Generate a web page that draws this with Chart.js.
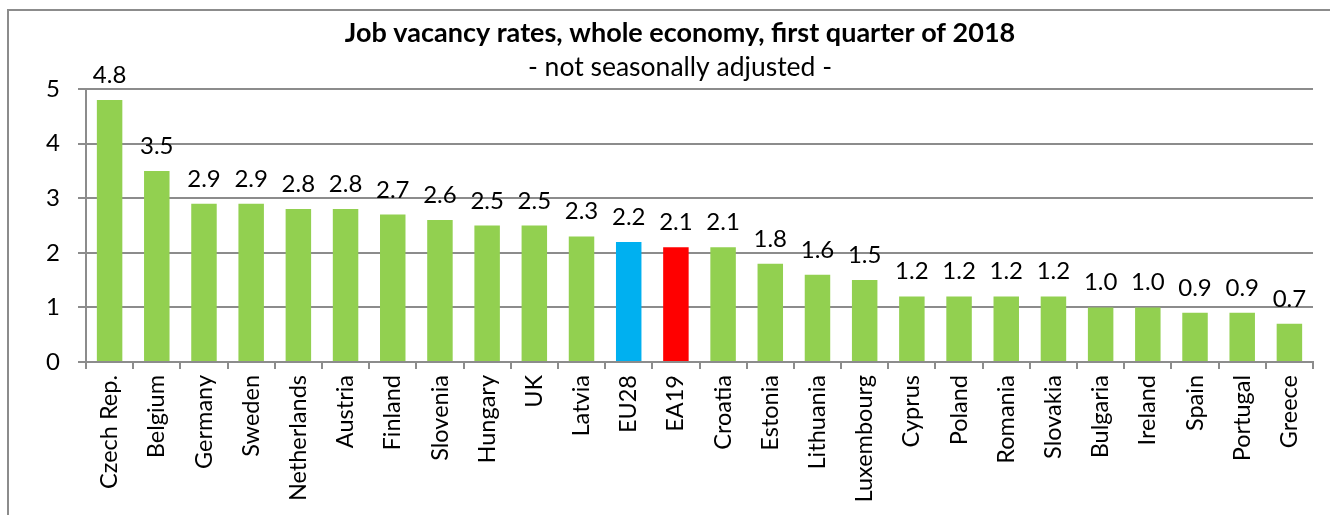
<!DOCTYPE html>
<html lang="en">
<head>
    <meta charset="UTF-8" />
    <title>Job vacancy rates</title>
    <script src="https://cdn.jsdelivr.net/npm/chart.js"></script>
    <style>
        html, body { margin: 0; padding: 0; background: #fff; }
        #wrap { width: 1330px; height: 515px; }
    </style>
</head>
<body>
    <div id="wrap"><canvas id="vacancyChart" width="1330" height="515"></canvas></div>

    <script>
        const countries = ['Czech Rep.', 'Belgium', 'Germany', 'Sweden', 'Netherlands', 'Austria', 'Finland',
            'Slovenia', 'Hungary', 'UK', 'Latvia', 'EU28', 'EA19', 'Croatia', 'Estonia', 'Lithuania',
            'Luxembourg', 'Cyprus', 'Poland', 'Romania', 'Slovakia', 'Bulgaria', 'Ireland', 'Spain',
            'Portugal', 'Greece'];
        const rates = [4.8, 3.5, 2.9, 2.9, 2.8, 2.8, 2.7, 2.6, 2.5, 2.5, 2.3, 2.2, 2.1, 2.1, 1.8, 1.6,
            1.5, 1.2, 1.2, 1.2, 1.2, 1.0, 1.0, 0.9, 0.9, 0.7];
        const yTicks = [0, 1, 2, 3, 4, 5];

        const FONT = 'Lato, Calibri, sans-serif';
        const GREEN = '#92d050', BLUE = '#00b0f0', RED = '#ff0000';
        const GRID = '#8c8c8c';

        const barColors = countries.map(c => c === 'EU28' ? BLUE : (c === 'EA19' ? RED : GREEN));

        // frame + titles drawn by hand so they sit where the original has them
        const frameAndTitles = {
            id: 'frameAndTitles',
            beforeDraw(chart) {
                const ctx = chart.ctx;
                ctx.save();
                ctx.fillStyle = '#fff';
                ctx.fillRect(0, 0, chart.width, chart.height);
                ctx.strokeStyle = '#8c8c8c';
                ctx.lineWidth = 2;
                ctx.beginPath();
                ctx.moveTo(8, chart.height);
                ctx.lineTo(8, 10);
                ctx.lineTo(chart.width, 10);
                ctx.stroke();

                ctx.fillStyle = '#000';
                ctx.textAlign = 'center';
                ctx.textBaseline = 'alphabetic';
                ctx.font = 'bold 27px ' + FONT;
                ctx.fillText('Job vacancy rates, whole economy, first quarter of 2018', 680, 42);
                ctx.font = '26.5px ' + FONT;
                ctx.fillText('- not seasonally adjusted -', 680, 76);
                ctx.restore();
            }
        };

        const valueLabels = {
            id: 'valueLabels',
            afterDatasetsDraw(chart) {
                const ctx = chart.ctx;
                const meta = chart.getDatasetMeta(0);
                ctx.save();
                ctx.fillStyle = '#000';
                ctx.textAlign = 'center';
                ctx.textBaseline = 'alphabetic';
                ctx.font = '24px ' + FONT;
                meta.data.forEach((bar, i) => {
                    ctx.fillText(rates[i].toFixed(1), bar.x, bar.y - 17);
                });
                ctx.restore();
            }
        };

        new Chart(document.getElementById('vacancyChart'), {
            type: 'bar',
            data: {
                labels: countries,
                datasets: [{
                    data: rates,
                    backgroundColor: barColors,
                    borderWidth: 0,
                    categoryPercentage: 1,
                    barPercentage: 0.54
                }]
            },
            options: {
                responsive: false,
                animation: false,
                devicePixelRatio: 1,
                layout: { padding: { top: 89, right: 17, left: 0, bottom: 0 } },
                plugins: {
                    legend: { display: false },
                    title: { display: false },
                    tooltip: { enabled: false }
                },
                scales: {
                    x: {
                        offset: true,
                        afterFit: (axis) => { axis.height = 153; },
                        grid: {
                            offset: true,
                            drawOnChartArea: false,
                            drawTicks: true,
                            tickLength: 7,
                            color: GRID,
                            lineWidth: 2
                        },
                        border: { color: GRID, width: 2 },
                        ticks: {
                            color: '#000',
                            font: { family: FONT, size: 23.5 },
                            minRotation: 90,
                            maxRotation: 90,
                            autoSkip: false,
                            padding: 6
                        }
                    },
                    y: {
                        min: 0,
                        max: 5,
                        afterFit: (axis) => { axis.width = 86; },
                        afterBuildTicks: (axis) => { axis.ticks = yTicks.map(v => ({ value: v })); },
                        grid: {
                            color: GRID,
                            lineWidth: 2,
                            drawTicks: true,
                            tickLength: 8
                        },
                        border: { color: GRID, width: 2 },
                        ticks: {
                            color: '#000',
                            font: { family: FONT, size: 24 },
                            padding: 18
                        }
                    }
                }
            },
            plugins: [frameAndTitles, valueLabels]
        });
    </script>
</body>
</html>
